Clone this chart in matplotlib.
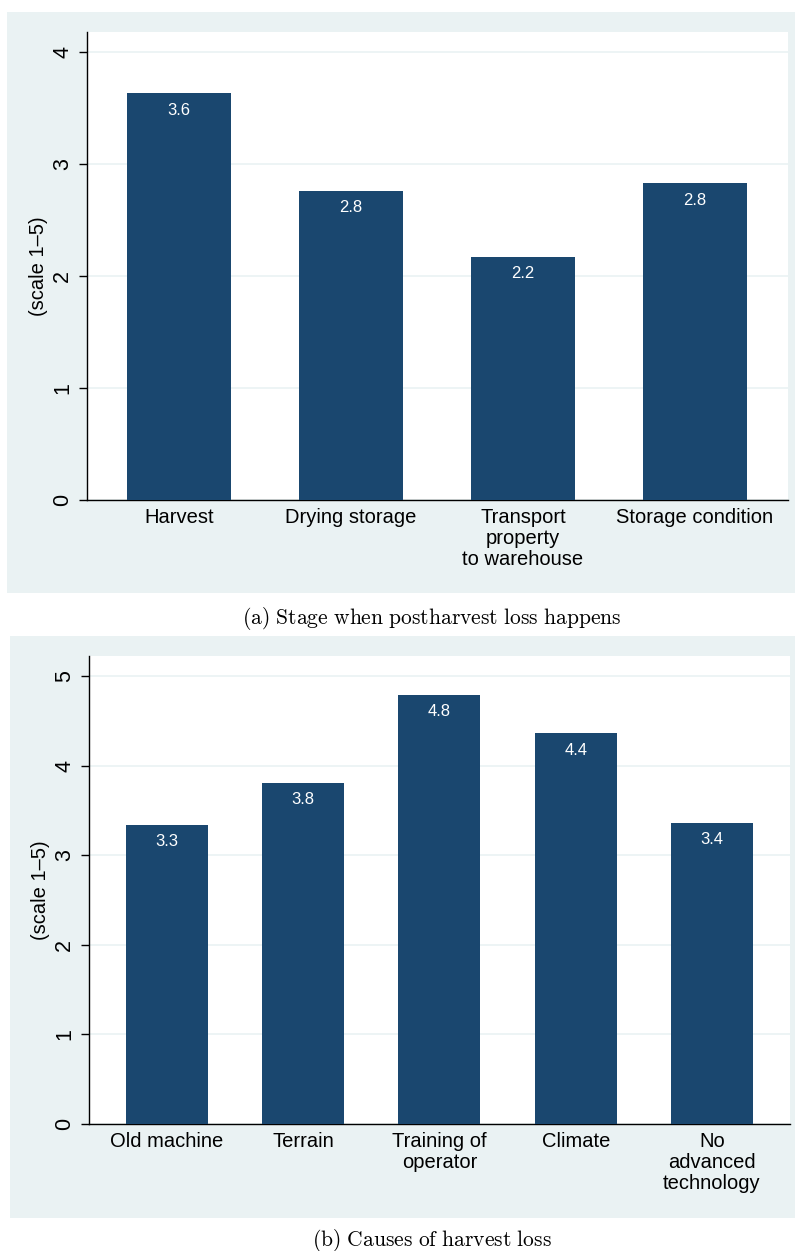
import matplotlib.pyplot as plt
from matplotlib.patches import Rectangle

plt.rcParams["font.family"] = ["Liberation Sans", "DejaVu Sans"]
plt.rcParams["mathtext.fontset"] = "cm"

# Panel (a): stage when postharvest loss happens
stages       = ["Harvest", "Drying storage", "Transport\nproperty\nto warehouse", "Storage condition"]
stage_scores = [3.63, 2.76, 2.17, 2.83]

# Panel (b): causes of harvest loss
causes       = ["Old machine", "Terrain", "Training of\noperator", "Climate", "No\nadvanced\ntechnology"]
cause_scores = [3.34, 3.81, 4.79, 4.36, 3.36]

W, H = 795, 1251
navy = "#1A476F"
bg   = "#EAF2F3"

fig = plt.figure(figsize=(W / 100, H / 100), dpi=100)

def px_box(x0, y0, x1, y1):
    # pixel box (top-left origin) -> figure fraction [left, bottom, width, height]
    return [x0 / W, 1 - y1 / H, (x1 - x0) / W, (y1 - y0) / H]

def panel(bg_box, ax_box, cats, vals, ylim, xlim, width, yticks, caption, cap_y):
    l, b, w, h = px_box(*bg_box)
    fig.patches.append(Rectangle((l, b), w, h, transform=fig.transFigure,
                                 facecolor=bg, edgecolor="none", zorder=-5))
    ax = fig.add_axes(px_box(*ax_box), zorder=2)
    ax.set_facecolor("white")
    x = list(range(len(cats)))
    bars = ax.bar(x, vals, width=width, color=navy, zorder=3)
    for rect, v in zip(bars, vals):
        ax.annotate(f"{v:.1f}", (rect.get_x() + rect.get_width() / 2, v),
                    xytext=(0, -17), textcoords="offset pixels",
                    ha="center", va="center", color="white", fontsize=12, zorder=4)
    ax.set_xlim(*xlim)
    ax.set_ylim(*ylim)
    ax.set_xticks(x)
    ax.set_xticklabels(cats, fontsize=14.5, linespacing=1.12)
    ax.tick_params(axis="x", length=0, pad=6)
    ax.set_yticks(yticks)
    ax.set_yticklabels([str(t) for t in yticks], rotation=90, va="center", fontsize=15.5)
    ax.tick_params(axis="y", length=6, width=1, pad=4)
    ax.yaxis.grid(True, color=bg, linewidth=1.2, zorder=1)
    ax.set_axisbelow(True)
    ax.set_ylabel("(scale 1\u20135)", fontsize=14.5, labelpad=3)
    for s in ["top", "right"]:
        ax.spines[s].set_visible(False)
    for s in ["left", "bottom"]:
        ax.spines[s].set_color("black")
        ax.spines[s].set_linewidth(1.0)
    fig.text(432 / W, 1 - cap_y / H, caption, ha="center", va="center", fontsize=15.5)
    return ax

panel((7, 12, 795, 593), (87, 32, 788, 500), stages, stage_scores,
      (0, 4.179), (-0.535, 3.541), 0.605, [0, 1, 2, 3, 4],
      r"$\mathrm{(a)\ Stage\ when\ postharvest\ loss\ happens}$", 618)

panel((10, 636, 795, 1218), (89, 656, 790, 1124), causes, cause_scores,
      (0, 5.223), (-0.5725, 4.573), 0.602, [0, 1, 2, 3, 4, 5],
      r"$\mathrm{(b)\ Causes\ of\ harvest\ loss}$", 1240)

fig.savefig("out.png", dpi=100)
